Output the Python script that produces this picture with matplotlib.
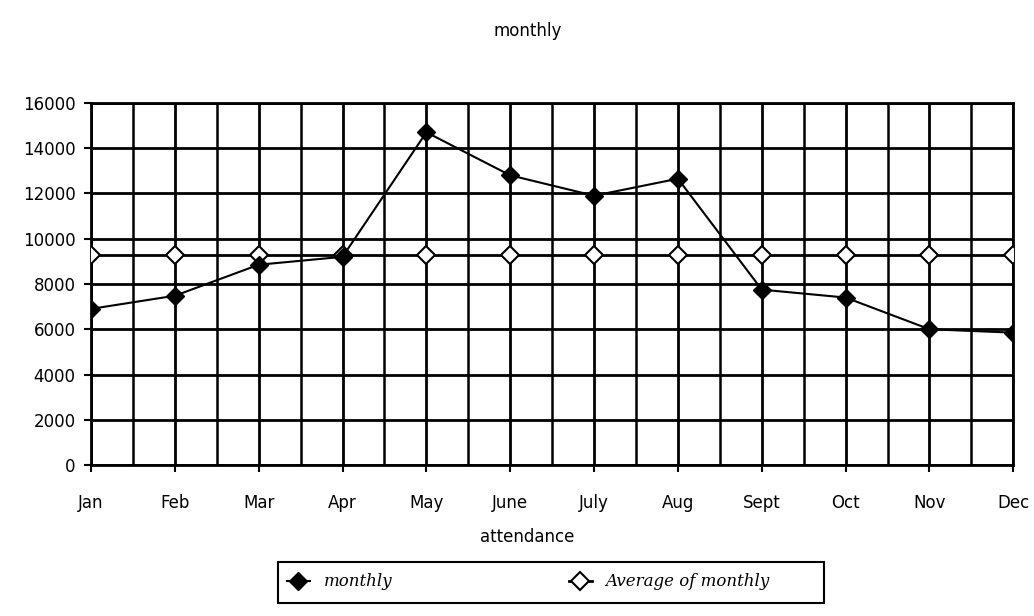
import matplotlib
matplotlib.use("Agg")
import matplotlib.pyplot as plt
from matplotlib.patches import Rectangle

# monthly attendance figures
months = ["Jan", "Feb", "Mar", "Apr", "May", "June", "July", "Aug", "Sept", "Oct", "Nov", "Dec"]
monthly = [6900, 7480, 8850, 9200, 14700, 12800, 11900, 12650, 7750, 7400, 6000, 5850]
avg_monthly = [9290, 9290, 9290, 9290, 9290, 9290, 9290, 9290, 9290, 9290, 9290, 9290]
y_ticks = [0, 2000, 4000, 6000, 8000, 10000, 12000, 14000, 16000]

plt.rcParams["font.family"] = ["DejaVu Sans"]

fig = plt.figure(figsize=(10.34, 6.16), dpi=100)
ax = fig.add_axes([0.088, 0.245, 0.892, 0.588])

x = list(range(len(months)))
ax.plot(x, monthly, color="black", linewidth=1.5, marker="D", markersize=9,
        markerfacecolor="black", markeredgecolor="black", label="monthly", zorder=4)
ax.plot(x, avg_monthly, color="black", linewidth=2, marker="D", markersize=9,
        markerfacecolor="white", markeredgecolor="black", markeredgewidth=1.5,
        label="Average of monthly", zorder=3)

ax.set_xlim(0, len(months) - 1)
ax.set_ylim(0, 16000)
ax.set_yticks(y_ticks)
ax.set_yticklabels([str(v) for v in y_ticks], fontsize=12)
ax.set_xticks(x)
ax.set_xticklabels(months, fontsize=12)
ax.set_xticks([i + 0.5 for i in x[:-1]], minor=True)

# grid: horizontal at every tick, vertical at every month and in between
ax.grid(True, which="major", color="black", linewidth=2)
ax.grid(True, which="minor", axis="x", color="black", linewidth=1.8)
for s in ax.spines.values():
    s.set_linewidth(2)
ax.tick_params(axis="x", which="major", direction="out", length=5, width=1.5, pad=16)
ax.tick_params(axis="x", which="minor", length=0)
ax.tick_params(axis="y", direction="out", length=5, width=1.5, pad=6)

ax.set_xlabel("attendance", fontsize=12)
ax.xaxis.set_label_coords((527 - 91) / (1013 - 91), -(528 - 465) / (465 - 103))
fig.text(0.51, 0.95, "monthly", fontsize=12, ha="center", va="center")

# legend box below the chart
fig.patches.append(Rectangle((278 / 1034, 1 - 603 / 616), 546 / 1034, 41 / 616,
                             transform=fig.transFigure, fill=False,
                             edgecolor="black", linewidth=1.5))
fig.legend(loc="center left", bbox_to_anchor=(280 / 1034, 1 - 582 / 616),
           ncol=2, frameon=False, handlelength=1.4, columnspacing=10.6,
           prop={"style": "italic", "size": 12, "family": "DejaVu Serif"}, borderaxespad=0)

fig.savefig("out.png", dpi=100)
